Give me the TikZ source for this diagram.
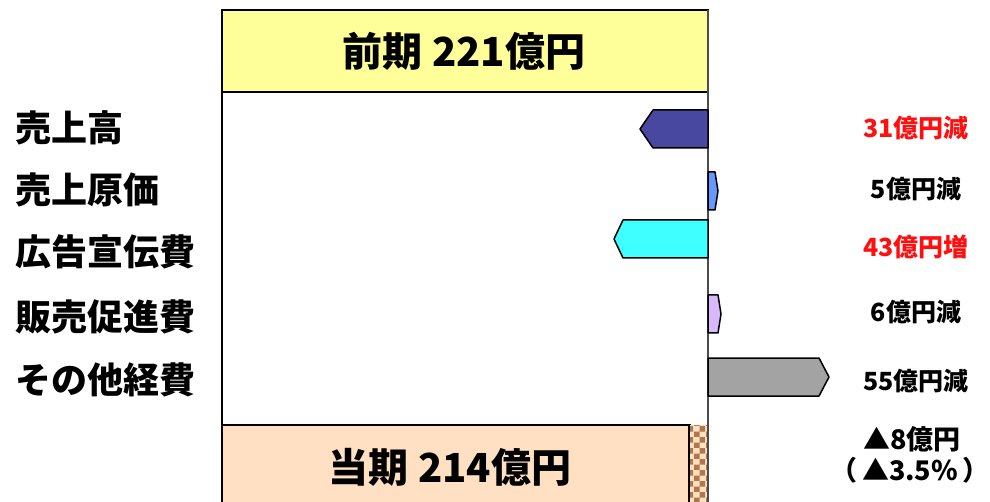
\documentclass[tikz,border=0pt]{standalone}
\usepackage{fontspec}
\setmainfont{Noto Sans CJK JP}
\usetikzlibrary{patterns}
\definecolor{lightyellow}{HTML}{FFFF99}
\definecolor{peach}{HTML}{FFE0C2}
\definecolor{checkbrown}{HTML}{B07848}
\definecolor{darkblue}{HTML}{4848A0}
\definecolor{midblue}{HTML}{6699FF}
\definecolor{aqua}{HTML}{40FFFF}
\definecolor{lavender}{HTML}{D8B8FF}
\definecolor{midgray}{HTML}{A3A3A3}
\definecolor{alertred}{HTML}{FF1010}

% bar for one item: colour, centre y, shoulder x, tip x
\newcommand{\itembar}[4]{%
  \filldraw[fill=#1, draw=black, line width=1.5pt, line join=round]
    (708,#2-19) -- (#3,#2-19) -- (#4,#2) -- (#3,#2+19) -- (708,#2+19) -- cycle;}

\tikzset{
  item/.style={anchor=west, font=\bfseries\fontsize{36}{36}\selectfont, inner sep=0pt},
  amount/.style={font=\bfseries\fontsize{25}{25}\selectfont, inner sep=0pt},
  change/.style={font=\bfseries\fontsize{27}{27}\selectfont, inner sep=0pt,
    text height=0.8em, text depth=0.1em},
  total/.style={font=\bfseries\fontsize{40}{40}\selectfont, inner sep=0pt},
}

\begin{document}
\begin{tikzpicture}[x=1pt, y=-1pt]
  \useasboundingbox (0,0) rectangle (990,502);

  % frame
  \draw[line width=1.5pt] (222,92) -- (222,425);
  \filldraw[fill=lightyellow, line width=1.5pt] (222,10) rectangle (708,92);
  \node[total] (prev) at (464,51) {前期 221億円};

  \filldraw[fill=peach, line width=1.5pt] (222,425) rectangle (690,505);
  \fill[peach] (690,425) rectangle (707,505);
  \fill[pattern=checkerboard, pattern color=checkbrown] (690,425) rectangle (707,505);
  \draw[line width=2.5pt] (689,425) -- (689,505);
  \node[total] (curr) at (450,467) {当期 214億円};

  % axis
  \draw[black!70, line width=1.5pt] (708,10) -- (708,502);

  % bars
  \itembar{darkblue}{129}{653}{640}
  \itembar{midblue}{191}{715}{718}
  \itembar{aqua}{239}{623}{614}
  \itembar{lavender}{314}{718}{721}
  \itembar{midgray}{377}{819}{829}

  % items
  \node[item] (sales) at (15,128) {売上高};
  \node[item] (cogs) at (15,190) {売上原価};
  \node[item] (adv) at (15,252) {広告宣伝費};
  \node[item] (promo) at (15,317) {販売促進費};
  \node[item] (other) at (15,380) {その他経費};

  % amounts
  \node[amount, text=alertred] (salesamt) at (916,128) {31億円減};
  \node[amount] (cogsamt) at (916,189) {5億円減};
  \node[amount, text=alertred] (advamt) at (916,247) {43億円増};
  \node[amount] (promoamt) at (916,312) {6億円減};
  \node[amount] (otheramt) at (916,381) {55億円減};

  \node[change] (diff) at (912,446) {▲8億円};
  \node[change] (rate) at (910,477) {（\,▲3.5\%\,）};
\end{tikzpicture}
\end{document}
